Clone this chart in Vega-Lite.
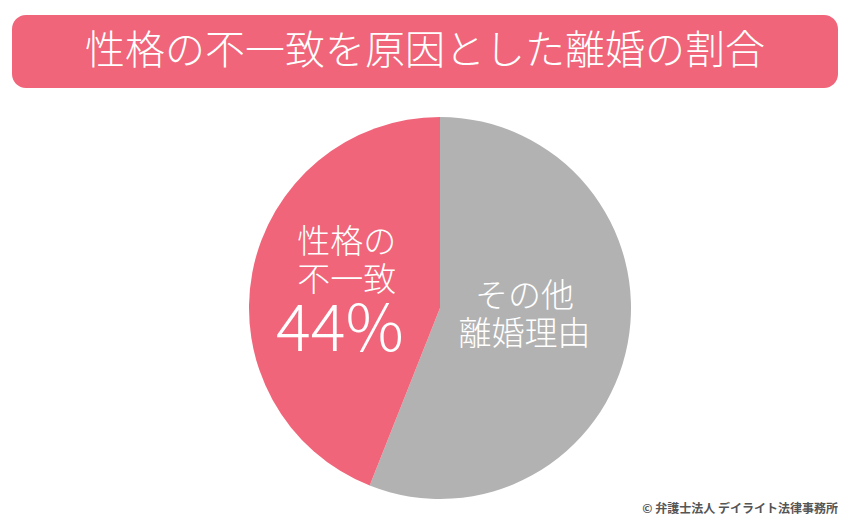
{
  "$schema": "https://vega.github.io/schema/vega-lite/v6.json",
  "background": "white",
  "padding": {"left": 12, "top": 15, "right": 0, "bottom": 0},
  "spacing": 20,
  "config": {"font": "Noto Sans CJK JP"},
  "vconcat": [
    {
      "width": 826,
      "height": 73,
      "view": {"fill": "#F0657A", "stroke": null, "cornerRadius": 14},
      "data": {"values": [{"title": "性格の不一致を原因とした離婚の割合"}]},
      "mark": {"type": "text", "color": "white", "fontSize": 40, "fontWeight": 300, "font": "Noto Sans CJK JP"},
      "encoding": {"text": {"field": "title"}}
    },
    {
      "width": 826,
      "height": 400,
      "view": {"stroke": null},
      "title": {"text": "© 弁護士法人 デイライト法律事務所", "orient": "bottom", "anchor": "end", "fontSize": 12, "fontWeight": "bold", "color": "#555555", "font": "Noto Sans CJK JP", "offset": -4},
      "data": {"values": [
        {"category": "その他離婚理由", "label": "その他\n離婚理由", "value": 56, "pct": "56%", "rank": 1},
        {"category": "性格の不一致", "label": "性格の\n不一致", "value": 44, "pct": "44%", "rank": 2}
      ]},
      "encoding": {
        "theta": {"field": "value", "type": "quantitative", "stack": true},
        "order": {"field": "rank", "type": "ordinal"},
        "color": {"field": "category", "type": "nominal", "legend": null,
          "scale": {"domain": ["その他離婚理由", "性格の不一致"], "range": ["#B2B2B2", "#F0657A"]}}
      },
      "layer": [
        {"mark": {"type": "arc", "outerRadius": 191, "xOffset": 15}},
        {
          "mark": {"type": "text", "fontSize": 33, "fontWeight": 300, "lineBreak": "\n", "lineHeight": 38, "radius": 95, "dx": 15, "dy": -47},
          "encoding": {
            "text": {"condition": {"test": "datum.rank == 2", "field": "label"}, "value": ""},
            "color": {"value": "white"}
          }
        },
        {
          "mark": {"type": "text", "fontSize": 65, "fontWeight": 300, "radius": 102, "dx": 15, "dy": 42},
          "encoding": {
            "text": {"condition": {"test": "datum.rank == 2", "field": "pct"}, "value": ""},
            "color": {"value": "white"}
          }
        },
        {
          "mark": {"type": "text", "fontSize": 33, "fontWeight": 300, "lineBreak": "\n", "lineHeight": 38, "radius": 86, "dx": 15, "dy": -27},
          "encoding": {
            "text": {"condition": {"test": "datum.rank == 1", "field": "label"}, "value": ""},
            "color": {"value": "white"}
          }
        }
      ]
    }
  ]
}
